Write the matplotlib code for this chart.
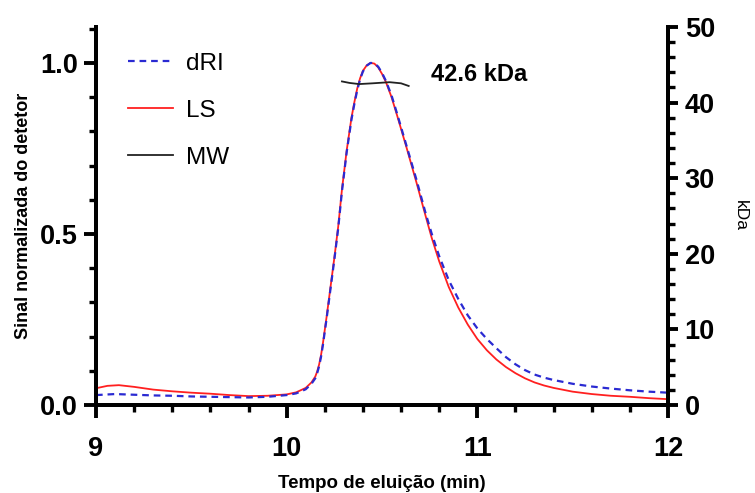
import matplotlib
matplotlib.use("Agg")
import matplotlib.pyplot as plt
from matplotlib.lines import Line2D
from matplotlib.ticker import MultipleLocator, FormatStrFormatter

plt.rcParams["font.family"] = ["Liberation Sans", "DejaVu Sans"]

# LS (light scattering), normalised
ls_time = [9.0, 9.06, 9.12, 9.2, 9.3, 9.4, 9.5, 9.6, 9.7, 9.8, 9.9, 10.0, 10.05,
           10.1, 10.13, 10.15, 10.16, 10.17, 10.18, 10.19, 10.21, 10.23, 10.25,
           10.27, 10.29, 10.315, 10.34, 10.355, 10.37, 10.385, 10.40, 10.42,
           10.44, 10.46, 10.48, 10.50, 10.52, 10.55, 10.58, 10.63, 10.68, 10.73,
           10.76, 10.80, 10.85, 10.90, 10.95, 11.0, 11.05, 11.1, 11.15, 11.2,
           11.25, 11.3, 11.35, 11.4, 11.5, 11.6, 11.7, 11.8, 11.9, 12.0]
ls_signal = [0.049, 0.056, 0.058, 0.053, 0.045, 0.040, 0.036, 0.033, 0.029, 0.026,
             0.027, 0.031, 0.037, 0.050, 0.066, 0.083, 0.098, 0.118, 0.145, 0.18,
             0.26, 0.345, 0.43, 0.52, 0.63, 0.745, 0.84, 0.885, 0.925, 0.955,
             0.977, 0.993, 1.0, 0.998, 0.987, 0.968, 0.945, 0.90, 0.845, 0.75,
             0.652, 0.55, 0.49, 0.42, 0.345, 0.285, 0.235, 0.193, 0.160, 0.133,
             0.111, 0.093, 0.078, 0.066, 0.057, 0.050, 0.039, 0.032, 0.027,
             0.024, 0.020, 0.017]

# dRI (refractive index), normalised
dri_time = [9.0, 9.1, 9.2, 9.3, 9.4, 9.5, 9.6, 9.7, 9.8, 9.9, 10.0, 10.05, 10.1,
            10.13, 10.15, 10.16, 10.17, 10.18, 10.19, 10.21, 10.23, 10.25, 10.27,
            10.29, 10.315, 10.34, 10.355, 10.37, 10.385, 10.40, 10.42, 10.44,
            10.46, 10.48, 10.50, 10.52, 10.55, 10.58, 10.63, 10.68, 10.73, 10.76,
            10.80, 10.85, 10.90, 10.95, 11.0, 11.05, 11.1, 11.15, 11.2, 11.25,
            11.3, 11.35, 11.4, 11.5, 11.6, 11.7, 11.8, 11.9, 12.0]
dri_signal = [0.029, 0.032, 0.030, 0.028, 0.027, 0.025, 0.024, 0.023, 0.022,
              0.024, 0.029, 0.034, 0.046, 0.062, 0.078, 0.093, 0.113, 0.14,
              0.175, 0.255, 0.34, 0.425, 0.515, 0.625, 0.74, 0.835, 0.88, 0.92,
              0.952, 0.975, 0.992, 1.0, 0.999, 0.989, 0.971, 0.948, 0.905, 0.85,
              0.755, 0.66, 0.558, 0.502, 0.435, 0.365, 0.31, 0.262, 0.224, 0.193,
              0.166, 0.140, 0.119, 0.102, 0.089, 0.080, 0.073, 0.062, 0.054,
              0.048, 0.043, 0.039, 0.036]

# MW across the peak (kDa)
mw_time = [10.29, 10.33, 10.38, 10.45, 10.54, 10.60, 10.64]
mw_kda = [42.8, 42.6, 42.45, 42.55, 42.7, 42.55, 42.2]

fig = plt.figure(figsize=(7.55, 4.93), dpi=100)
ax = fig.add_axes([96 / 755, 1 - 405 / 493, 572 / 755, 378 / 493])
ax2 = ax.twinx()

blue = "#2a2ad2"
red = "#ff2020"

ax.plot(ls_time, ls_signal, color=red, lw=1.3, zorder=3)
ax.plot(dri_time, dri_signal, color=blue, lw=1.6, dashes=(3, 2.2), zorder=4)
ax2.plot(mw_time, mw_kda, color="#222222", lw=1.3)

ax.set_xlim(9, 12)
ax.set_ylim(0, 1.105)
ax2.set_ylim(0, 50)

ax.xaxis.set_major_locator(MultipleLocator(1))
ax.xaxis.set_minor_locator(MultipleLocator(0.2))
ax.yaxis.set_major_locator(MultipleLocator(0.5))
ax.yaxis.set_minor_locator(MultipleLocator(0.1))
ax.yaxis.set_major_formatter(FormatStrFormatter("%.1f"))
ax2.yaxis.set_major_locator(MultipleLocator(10))
ax2.yaxis.set_minor_locator(MultipleLocator(2))

for a in (ax, ax2):
    a.spines["top"].set_visible(False)
    for s in a.spines.values():
        s.set_linewidth(2.8)
    a.tick_params(which="major", length=9, width=2.8, labelsize=19.5)
    a.tick_params(which="minor", length=5, width=2.4)
    for lab in a.get_yticklabels() + a.get_xticklabels():
        lab.set_fontweight("bold")
ax.tick_params(axis="x", which="major", pad=13)
ax.tick_params(axis="y", which="major", pad=4)
ax2.tick_params(axis="y", which="major", length=7, pad=5, labelsize=19.5)

ax.set_xlabel("Tempo de eluição (min)", fontsize=13.5, fontweight="bold", labelpad=10)
ax.set_ylabel("Sinal normalizada do detetor", fontsize=13, fontweight="bold", labelpad=6)
ax2.set_ylabel("kDa", fontsize=12.5, rotation=-90, labelpad=24)

ax.text(10.755, 0.966, "42.6 kDa", fontsize=17, fontweight="bold",
        ha="left", va="center")

handles = [
    Line2D([], [], color=blue, lw=1.6, dashes=(3, 2.2)),
    Line2D([], [], color=red, lw=1.3),
    Line2D([], [], color="#222222", lw=1.3),
]
ax.legend(handles, ["dRI", "LS", "MW"], loc="upper left",
          bbox_to_anchor=(0.056, 0.932), frameon=False, fontsize=17.5,
          handlelength=1.85, handletextpad=0.55, labelspacing=1.03,
          borderaxespad=0, borderpad=0)

fig.savefig("out.png", dpi=100)
